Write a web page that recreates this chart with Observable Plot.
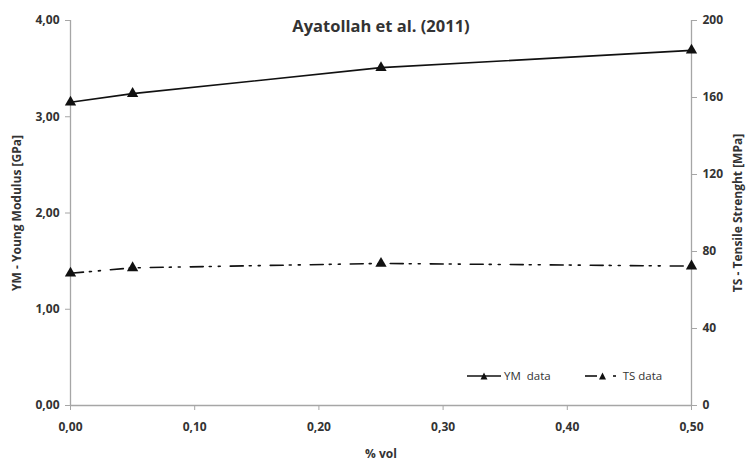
<!DOCTYPE html>
<html>
<head>
<meta charset="utf-8">
<script src="https://cdn.jsdelivr.net/npm/d3@7"></script>
<script src="https://cdn.jsdelivr.net/npm/@observablehq/plot@0.6"></script>
<style>
  html, body { margin: 0; padding: 0; background: #fff; }
  #wrap { position: relative; width: 751px; height: 465px; font-family: "Open Sans", sans-serif; }
  #legend { position: absolute; left: 466px; top: 368px; font-size: 11.5px; color: #333; display: flex; align-items: center; gap: 0; }
  #legend span.item { display: inline-flex; align-items: center; }
  svg text { font-family: "Open Sans", sans-serif; }
</style>
</head>
<body>
<div id="wrap"></div>
<script>
// --- data ---
const volFraction = [0.00, 0.05, 0.25, 0.50];
const youngModulus = [3.15, 3.24, 3.51, 3.69];   // GPa (left axis)
const tensileStrength = [68.7, 71.5, 73.8, 72.4]; // MPa (right axis)
const xTicks = [0, 0.1, 0.2, 0.3, 0.4, 0.5];
const yLeftTicks = [0, 1, 2, 3, 4];
const yRightTicks = [0, 40, 80, 120, 160, 200];
const title = "Ayatollah et al. (2011)";
const ratio = 50; // 200 MPa on right axis == 4 GPa on left axis

const ym = volFraction.map((x, i) => ({x, v: youngModulus[i]}));
const ts = volFraction.map((x, i) => ({x, v: tensileStrength[i]}));
const comma = (f) => (d) => d3.format(f)(d).replace(".", ",");

const axisGrey = "#a6a6a6";
const textCol = "#333";

const chart = Plot.plot({
  width: 751,
  height: 465,
  marginLeft: 70,
  marginRight: 60,
  marginTop: 20,
  marginBottom: 60,
  x: {domain: [0, 0.5]},
  y: {domain: [0, 4]},
  style: {fontFamily: "Open Sans, sans-serif", color: textCol, background: "white"},
  marks: [
    Plot.ruleY([0], {stroke: axisGrey, strokeWidth: 1.3}),
    Plot.ruleX([0], {stroke: axisGrey, strokeWidth: 1.3}),
    Plot.ruleX([0.5], {stroke: axisGrey, strokeWidth: 1.3}),
    Plot.axisX({ticks: xTicks, tickFormat: comma(".2f"), tickSize: 5, tickPadding: 12, stroke: axisGrey,
      fontSize: 12, fontWeight: "bold", fill: textCol,
      label: "% vol", labelAnchor: "center", labelOffset: 52, labelArrow: "none"}),
    Plot.axisY({anchor: "left", ticks: yLeftTicks, tickFormat: comma(".2f"), tickSize: 5, tickPadding: 6, stroke: axisGrey,
      fontSize: 12, fontWeight: "bold", fill: textCol,
      label: "YM - Young Modulus [GPa]", labelAnchor: "center", labelOffset: 58, labelArrow: "none"}),
    Plot.axisY({anchor: "right", ticks: yRightTicks.map(d => d / ratio), tickFormat: d => d3.format("d")(Math.round(d * ratio)),
      tickSize: 5, tickPadding: 6, stroke: axisGrey, fontSize: 12, fontWeight: "bold", fill: textCol,
      label: "TS - Tensile Strenght [MPa]", labelAnchor: "center", labelOffset: 50, labelArrow: "none"}),
    Plot.line(ym, {x: "x", y: "v", stroke: "#111", strokeWidth: 1.6}),
    Plot.dot(ym, {x: "x", y: "v", symbol: "triangle", r: 4.2, fill: "#111", stroke: "none"}),
    Plot.line(ts, {x: "x", y: d => d.v / ratio, stroke: "#111", strokeWidth: 1.6, strokeDasharray: "13,6,2,7,2,10"}),
    Plot.dot(ts, {x: "x", y: d => d.v / ratio, symbol: "triangle", r: 4.2, fill: "#111", stroke: "none"}),
    Plot.text([title], {frameAnchor: "top", dy: 0, fontSize: 16.5, fontWeight: "bold", fill: textCol})
  ]
});

// axis-label styling
chart.querySelectorAll('g[aria-label$="label"] text').forEach(t => { t.setAttribute("font-weight", "bold"); t.setAttribute("font-size", "12"); });

const wrap = document.getElementById("wrap");
wrap.appendChild(chart);

// legend
const legend = document.createElement("div");
legend.id = "legend";
legend.innerHTML = `
  <span class="item"><svg width="36" height="12"><line x1="1" y1="6" x2="35" y2="6" stroke="#111" stroke-width="1.6"/><path d="M14.5,9.5 L18,2.5 L21.5,9.5 Z" fill="#111"/></svg><span style="margin-left:2px">YM&nbsp; data</span></span>
  <span class="item" style="margin-left:32px"><svg width="38" height="12"><line x1="2" y1="6" x2="14" y2="6" stroke="#111" stroke-width="1.6"/><path d="M16,9.5 L19.5,2.5 L23,9.5 Z" fill="#111"/><line x1="30" y1="6" x2="33" y2="6" stroke="#111" stroke-width="1.6"/></svg><span style="margin-left:2px">TS data</span></span>`;
wrap.appendChild(legend);
</script>
</body>
</html>
